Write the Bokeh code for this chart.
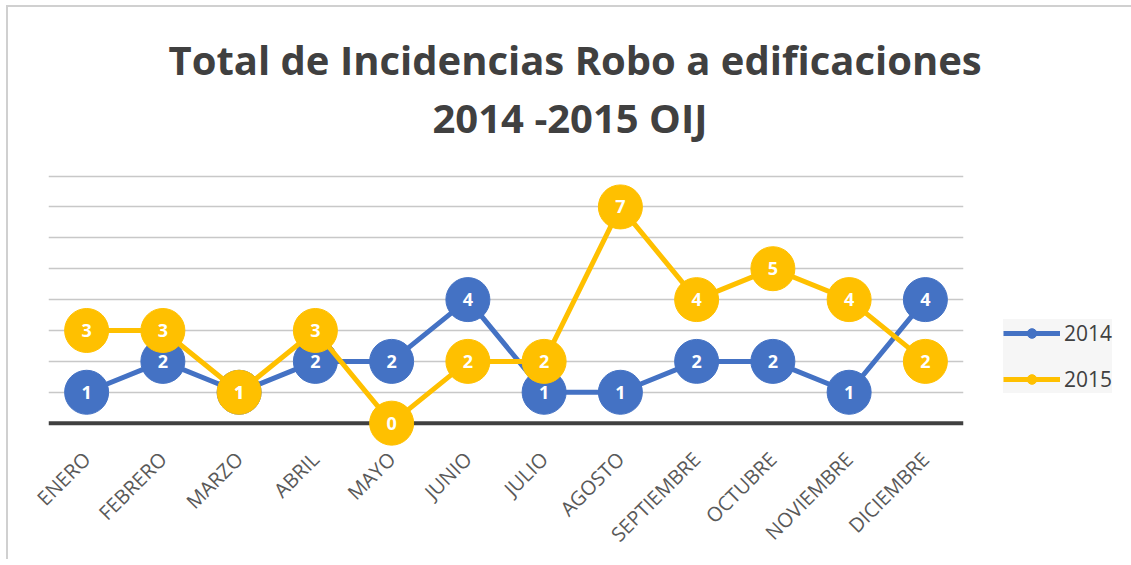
import math
from bokeh.plotting import figure
from bokeh.models import (Title, Legend, LegendItem, Span, FixedTicker,
                          ColumnDataSource)
from bokeh.core.properties import value
from bokeh.embed import file_html
from bokeh.resources import INLINE

# ---- data ----
meses = ["ENERO", "FEBRERO", "MARZO", "ABRIL", "MAYO", "JUNIO", "JULIO",
         "AGOSTO", "SEPTIEMBRE", "OCTUBRE", "NOVIEMBRE", "DICIEMBRE"]
v2014 = [1, 2, 1, 2, 2, 4, 1, 1, 2, 2, 1, 4]
v2015 = [3, 3, 1, 3, 0, 2, 2, 7, 4, 5, 4, 2]
y_ticks = [1, 2, 3, 4, 5, 6, 7, 8]
series_names = ["2014", "2015"]
titulo_1 = "Total de Incidencias Robo a edificaciones"
titulo_2 = "2014 -2015 OIJ"

BLUE = "#4472C4"
GOLD = "#FFC000"
FONT = "Open Sans"

src14 = ColumnDataSource(dict(x=meses, y=v2014, t=[str(v) for v in v2014]))
src15 = ColumnDataSource(dict(x=meses, y=v2015, t=[str(v) for v in v2015]))

p = figure(x_range=meses, y_range=(-0.95, 8.05),
           frame_width=915, frame_height=278,
           min_border_left=40, min_border_top=167,
           min_border_right=158, min_border_bottom=95,
           output_backend="svg", toolbar_location=None,
           background_fill_color="white", border_fill_color="white",
           styles={"border-top": "2px solid #D0D0D0",
                   "border-left": "2px solid #D0D0D0",
                   "margin-left": "6px", "margin-top": "5px"})

p.outline_line_color = None
p.yaxis.visible = False
p.xgrid.visible = False
p.ygrid.ticker = FixedTicker(ticks=y_ticks)
p.ygrid.grid_line_color = "#C8C8C8"
p.ygrid.grid_line_width = 1.5

p.xaxis.axis_line_color = None
p.xaxis.major_tick_line_color = None
p.xaxis.minor_tick_line_color = None
p.xaxis.major_label_orientation = math.pi / 4
p.xaxis.major_label_text_font = FONT
p.xaxis.major_label_text_font_size = "20px"
p.xaxis.major_label_text_color = "#595959"
p.xaxis.major_label_standoff = -3

p.add_layout(Span(location=0, dimension="width", line_color="#404040",
                  line_width=4, level="underlay"))

l14 = p.line("x", "y", source=src14, line_color=BLUE, line_width=5)
s14 = p.scatter("x", "y", source=src14, size=44, fill_color=BLUE,
                line_color=BLUE)
l15 = p.line("x", "y", source=src15, line_color=GOLD, line_width=5)
s15 = p.scatter("x", "y", source=src15, size=44, fill_color=GOLD,
                line_color=GOLD)

for src in (src14, src15):
    p.text("x", "y", text="t", source=src, text_color="white",
           text_font=value(FONT), text_font_style="bold",
           text_font_size="18px", text_align="center",
           text_baseline="middle")

spacer = Title(text=" ", text_font_size="2px", standoff=26)
t2 = Title(text=titulo_2, align="left", offset=384, text_font=FONT,
           text_font_style="bold", text_font_size="40px",
           text_color="#404040", standoff=0)
t1 = Title(text=titulo_1, align="left", offset=120, text_font=FONT,
           text_font_style="bold", text_font_size="40px",
           text_color="#404040", standoff=2)
p.add_layout(spacer, "above")
p.add_layout(t2, "above")
p.add_layout(t1, "above")

legend = Legend(items=[LegendItem(label=series_names[0], renderers=[l14, s14]),
                       LegendItem(label=series_names[1], renderers=[l15, s15])],
                location=(40, 59), background_fill_color="#F5F5F5",
                border_line_color=None, label_text_font=FONT,
                label_text_font_size="21px", label_text_color="#404040",
                glyph_width=57, glyph_height=24, label_height=24,
                spacing=18, padding=10, label_standoff=4, margin=0)
p.add_layout(legend, "right")

open("out.html", "w").write(file_html(p, INLINE))
